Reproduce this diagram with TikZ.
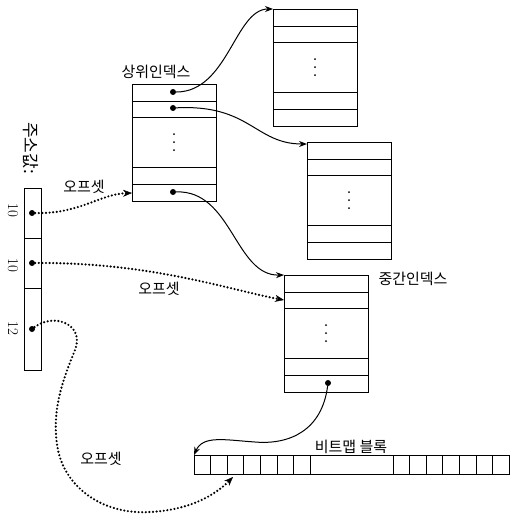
\documentclass[tikz,border=0pt]{standalone}
\usepackage{fontspec}
\newfontfamily\kr{Noto Sans CJK KR}
\usetikzlibrary{arrows.meta}
\newcommand\ibox[3]{%
  \node[box, minimum width=84pt, minimum height=117pt] (#1) at (#2,#3) {};
  \foreach \r in {17,33,83,100}
    \draw[cellline] ([yshift=-\r pt]#1.north west) -- ([yshift=-\r pt]#1.north east);
  \foreach \r in {50,58,66}
    \fill ([yshift=-\r pt]#1.north) circle (1pt);
}
\begin{document}
\begin{tikzpicture}[x=1pt,y=-1pt,
  box/.style={draw, line width=1pt, anchor=north west, inner sep=0pt, outer sep=0pt},
  cellline/.style={line width=1pt},
  ptdot/.style={circle, fill, inner sep=0pt, minimum size=6pt},
  lbl/.style={font=\kr\fontsize{15}{15}\selectfont, inner sep=0pt},
  num/.style={font=\fontsize{15}{15}\selectfont, inner sep=0pt, rotate=-90},
  ptr/.style={line width=1pt, -{Stealth[length=8pt,width=6pt]}},
  off/.style={line width=2.4pt, line cap=round, dash pattern=on 0pt off 3.6pt,
    -{Stealth[length=9pt,width=7pt,line width=0.4pt]}},
]
\useasboundingbox (0,0) rectangle (512,520);

% index boxes
\ibox{up}{132}{84}
\ibox{tr}{273}{9}
\ibox{mr}{307}{142}
\ibox{mid}{284}{275}

% labels
\node[lbl] (lup) at (156,72) {상위인덱스};
\node[lbl] (lmid) at (413,279) {중간인덱스};
\node[lbl] (lbm) at (351,447) {비트맵 블록};
\node[lbl] (lo1) at (84,187) {오프셋};
\node[lbl] (lo2) at (159,289) {오프셋};
\node[lbl] (lo3) at (101,459) {오프셋};

% address box
\node[box, minimum width=17pt, minimum height=182pt] (addr) at (24,188) {};
\draw[cellline] ([yshift=-50pt]addr.north west) -- ([yshift=-50pt]addr.north east);
\draw[cellline] ([yshift=-100pt]addr.north west) -- ([yshift=-100pt]addr.north east);
\node[lbl, rotate=-90, font=\kr\fontsize{17}{17}\selectfont] (laddr) at (31,148) {주소값:};
\node[num] (n1) at (13,210) {10};
\node[num] (n2) at (13,265) {10};
\node[num] (n3) at (13,328) {12};

% bitmap block
\node[box, minimum width=315pt, minimum height=19pt] (bm) at (194,455) {};
\foreach \k in {1,...,7}
  \draw[cellline] ([xshift={\k*16.6pt}]bm.north west) -- ([xshift={\k*16.6pt}]bm.south west);
\foreach \k in {0,...,6}
  \draw[cellline] ([xshift={199pt+\k*16.6pt}]bm.north west) -- ([xshift={199pt+\k*16.6pt}]bm.south west);

% pointer dots
\node[ptdot] (u1) at (173,92) {};
\node[ptdot] (u2) at (173,108) {};
\node[ptdot] (u3) at (173,192) {};
\node[ptdot] (m1) at (328,383) {};
\node[ptdot] (a1) at (32,213) {};
\node[ptdot] (a2) at (32,263) {};
\node[ptdot] (a3) at (32,329) {};

% solid pointers
\draw[ptr] (u1) .. controls (228,92) and (235,9) .. (tr.north west);
\draw[ptr] (u2) .. controls (250,104) and (255,144) .. ([yshift=-2pt]mr.north west);
\draw[ptr] (u3) .. controls (232,190) and (235,276) .. (mid.north west);
\draw[ptr] (m1) .. controls (322,430) and (290,445) .. (255,442)
  .. controls (225,440) and (203,435) .. (bm.north west);

% dotted offsets
\draw[off] (a1) .. controls (80,214) and (100,194) .. ([yshift=-109pt]up.north west);
\draw[off] (a2) .. controls (150,262) and (230,290) .. ([yshift=-25pt]mid.north west);
\draw[off] (a3) .. controls (55,312) and (85,325) .. (75,350)
  .. controls (65,375) and (50,410) .. (58,450)
  .. controls (65,485) and (100,515) .. (150,512)
  .. controls (190,510) and (215,495) .. ([xshift=39pt,yshift=-3pt]bm.south west);
\end{tikzpicture}
\end{document}
